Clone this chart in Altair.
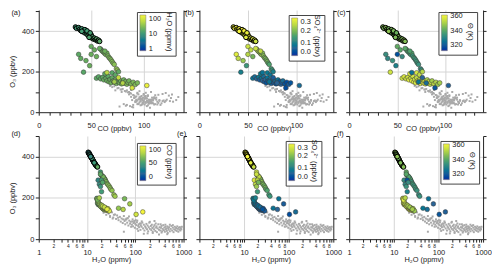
import altair as alt
import pandas as pd

FONT = "Liberation Sans"

# ---- coloured samples (one row per sample) ----
CO = [35, 36, 38, 39, 40, 41, 42, 43, 44, 45, 46, 47, 47, 48, 49, 50, 50, 51, 52, 53,
      54, 55, 56, 57, 58, 44, 46, 49, 41, 48,
      50, 53, 59, 60, 61, 62, 63, 64, 65, 66, 67, 68, 69, 70, 71, 72, 74, 75, 63, 58,
      38, 40, 48.5, 42.7, 50, 55, 45,
      55, 57, 59, 61, 62, 64, 65, 66, 67, 68, 69, 70, 71, 72, 73, 74, 75, 76, 77, 78,
      79, 80, 81, 82, 83, 84, 85, 86, 88, 90, 92, 94, 70, 73, 63, 76,
      65, 76, 89, 103, 80, 72]
O3 = [421, 415, 418, 410, 404, 412, 398, 405, 392, 400, 386, 395, 380, 388, 375, 382, 368, 372, 362, 366,
      358, 362, 352, 356, 350, 408, 402, 392, 400, 370,
      325, 308, 312, 305, 300, 296, 290, 285, 292, 278, 270, 265, 258, 250, 242, 236, 215, 208, 302, 315,
      286, 266, 230, 198, 286, 275, 255,
      168, 175, 165, 172, 160, 168, 155, 178, 150, 162, 145, 170, 155, 148, 160, 142, 152, 165, 145, 155,
      140, 150, 160, 143, 152, 138, 147, 155, 140, 148, 137, 145, 195, 185, 190, 200,
      196, 171, 120, 132, 144, 150]
H2O = [10.6, 10.9, 11.0, 11.3, 11.8, 11.2, 12.1, 11.7, 12.5, 12.0, 13.0, 12.4, 13.4, 12.9, 13.8, 13.3, 14.3, 14.0, 14.9, 14.6,
       15.3, 15.0, 16.0, 15.6, 16.5, 11.5, 11.9, 12.6, 11.9, 14.1,
       19, 20, 19.5, 21, 22, 22.5, 23.5, 24, 23, 25, 26, 27, 28.5, 30, 31, 33, 36, 38, 21.5, 19,
       17, 18, 20, 16, 20, 21, 19,
       17, 16.5, 18, 17.5, 19, 18.5, 20, 16.8, 21, 19.5, 22, 18, 20.5, 21.5, 19.2, 23, 22, 20, 24, 22.5,
       25, 23.5, 21, 26, 24, 27, 25.5, 23, 28, 27, 29, 26, 16, 17, 16.5, 18,
       60, 77, 104, 143, 56, 45]
SO4 = [0.31, 0.30, 0.32, 0.29, 0.30, 0.31, 0.28, 0.30, 0.29, 0.31, 0.28, 0.30, 0.27, 0.29, 0.28, 0.30, 0.27, 0.29, 0.28, 0.27,
       0.29, 0.28, 0.27, 0.28, 0.26, 0.31, 0.30, 0.29, 0.30, 0.28,
       0.26, 0.25, 0.24, 0.23, 0.24, 0.22, 0.21, 0.22, 0.20, 0.21, 0.19, 0.20, 0.18, 0.19, 0.17, 0.16, 0.15, 0.14, 0.25, 0.26,
       0.28, 0.25, 0.14, 0.10, 0.24, 0.19, 0.22,
       0.08, 0.07, 0.06, 0.09, 0.05, 0.08, 0.06, 0.07, 0.05, 0.06, 0.04, 0.08, 0.05, 0.06, 0.07, 0.05, 0.04, 0.06, 0.05, 0.07,
       0.04, 0.06, 0.08, 0.05, 0.04, 0.06, 0.05, 0.07, 0.04, 0.03, 0.05, 0.04, 0.09, 0.08, 0.09, 0.10,
       0.08, 0.05, 0.03, 0.07, 0.06, 0.08]
THETA = [346, 344, 347, 345, 348, 343, 346, 349, 344, 347, 345, 348, 343, 346, 349, 345, 344, 347, 346, 343,
         348, 345, 344, 347, 346, 345, 344, 342, 347, 345,
         341, 340, 339, 338, 340, 337, 338, 336, 339, 335, 337, 336, 334, 336, 335, 334, 333, 334, 339, 340,
         333, 331, 329, 356, 318, 332, 334,
         356, 358, 355, 357, 359, 354, 360, 356, 358, 355, 357, 353, 359, 356, 354, 358, 361, 352, 357, 355,
         359, 353, 351, 356, 354, 352, 355, 350, 353, 351, 349, 350, 357, 354, 358, 352,
         325, 322, 319, 321, 324, 326]

# ---- grey background samples ----
BG_CO = [72, 75, 70, 78, 68, 82, 76, 85, 80, 88,
         84, 90, 86, 93, 79, 95, 91, 87, 98, 83,
         96, 100, 92, 104, 89, 99, 94, 107, 101, 86,
         97, 110, 103, 91, 106, 95, 112, 100, 88, 108,
         97, 115, 102, 93, 110, 99, 105, 118, 96, 108,
         101, 113, 94, 104, 120, 98, 109, 102, 92, 116,
         106, 99, 111, 95, 103, 122, 97, 107, 100, 114,
         93, 105, 125, 98, 110, 102, 96, 117, 104, 90,
         108, 100, 128, 94, 112, 103, 97, 106, 119, 101,
         92, 109, 99, 115, 104, 96, 131, 107, 100, 111,
         93, 105, 98, 121, 102, 109, 95, 113, 104, 99,
         84, 89, 106, 81, 87, 124, 133, 127, 121, 77,
         83, 90, 126, 118, 85, 73, 79, 91, 96, 102,
         88, 114, 107, 94, 100, 111, 97, 108, 91, 103]
BG_H2O = [22, 25, 28, 30, 33, 35, 38, 40, 42, 45,
          48, 50, 52, 55, 58, 60, 62, 65, 68, 70,
          72, 75, 78, 80, 82, 85, 88, 90, 92, 95,
          98, 100, 105, 108, 110, 115, 118, 120, 125, 128,
          130, 135, 140, 145, 150, 155, 160, 165, 170, 175,
          180, 185, 190, 195, 200, 210, 215, 220, 225, 230,
          240, 245, 250, 260, 270, 275, 280, 290, 300, 310,
          320, 330, 340, 350, 360, 370, 380, 390, 400, 410,
          420, 430, 440, 450, 460, 470, 480, 490, 500, 520,
          540, 560, 580, 600, 620, 640, 660, 680, 700, 720,
          740, 760, 780, 800, 820, 840, 860, 880, 900, 920,
          58, 150, 310, 115, 230, 95, 130, 250, 62, 180,
          350, 460, 520, 110, 26, 30, 34, 36, 44, 56,
          74, 86, 66, 102, 136, 200, 265, 335, 420, 600]
BG_O3 = [128, 118, 124, 112, 130, 105, 120, 98, 115, 92,
         108, 85, 100, 78, 112, 88, 72, 95, 80, 102,
         66, 90, 75, 84, 60, 70, 96, 62, 78, 88,
         55, 74, 68, 82, 50, 64, 72, 58, 76, 45,
         66, 60, 80, 52, 70, 42, 62, 55, 74, 48,
         66, 38, 58, 80, 50, 64, 44, 70, 54, 36,
         60, 48, 68, 40, 56, 62, 34, 52, 72, 46,
         58, 42, 55, 64, 38, 50, 68, 44, 56, 36,
         60, 48, 52, 40, 62, 30, 54, 46, 58, 38,
         50, 64, 42, 56, 34, 48, 60, 44, 54, 40,
         62, 50, 36, 56, 46, 58, 42, 52, 48, 60,
         36, 26, 22, 40, 30, 82, 75, 88, 95, 28,
         32, 24, 70, 90, 135, 108, 100, 118, 104, 96,
         110, 86, 100, 92, 86, 84, 76, 72, 70, 68]

PANEL_LABELS = ["(a)", "(b)", "(c)", "(d)", "(e)", "(f)"]
CO_TICKS = list(range(0, 131, 10))
LOG_TICKS = [m * 10 ** e for e in range(3) for m in range(1, 10)] + [1000]
O3_TICKS = [0, 100, 200, 300, 400, 500]

COLORS = ["#1c2c9c", "#2a6496", "#3b8a80", "#69ad5c", "#b6d646", "#f6f63c"]

df = pd.DataFrame({"CO": CO, "O3": O3, "H2O": H2O, "SO4": SO4, "TH": THETA})
bgdf = pd.DataFrame({"CO": BG_CO, "H2O": BG_H2O, "O3": BG_O3})

M = "round(datum.value/pow(10,floor(log(datum.value)/LN10+1e-6)))"
LOG_LABEL = (f"{M}==1 ? format(datum.value,'d') : "
             f"({M}==2||{M}==4||{M}==6||{M}==8) ? format({M},'d') : ''")
LOG_MAJOR = f"{M}==1"
INK = "#222222"


def x_axis(log, tx, ty):
    common = dict(tickSize=3, labelPadding=6, domainColor=INK, tickColor=INK,
                  grid=True, gridColor="#d6d6d6", labelFlush=False, labelOverlap=False,
                  titleX=tx, titleY=ty, titleAlign="center", titleBaseline="middle",
                  labelFontSize=7.5, titleFontSize=7.5)
    if log:
        common.update(
            values=LOG_TICKS, labelExpr=LOG_LABEL, title="H₂O (ppmv)",
            labelFontSize={"condition": {"test": LOG_MAJOR, "value": 7.5}, "value": 5},
            labelBaseline={"condition": {"test": LOG_MAJOR, "value": "top"}, "value": "bottom"},
            gridOpacity={"condition": {"test": "datum.value==10||datum.value==100", "value": 1}, "value": 0},
        )
    else:
        common.update(
            values=CO_TICKS, labelExpr="datum.value % 50 === 0 ? datum.label : ''",
            title="CO (ppbv)", labelBaseline="top",
            gridOpacity={"condition": {"test": "datum.value==50||datum.value==100", "value": 1}, "value": 0},
        )
    return alt.Axis(**common)


def y_left(show, h):
    d = dict(values=O3_TICKS, tickSize=3.5, labelPadding=1.5, domainColor=INK, tickColor=INK,
             grid=True, gridColor="#d6d6d6",
             gridOpacity={"condition": {"test": "datum.value==200||datum.value==400", "value": 1}, "value": 0},
             labelFontSize=7.5, titleFontSize=7.5)
    if show:
        d.update(labelExpr="datum.value % 200 === 0 && datum.value < 500 ? datum.label : ''",
                 title="O₃ (ppbv)", titleX=-26, titleY=0.6 * h, titleAngle=270,
                 titleBaseline="middle", titleAlign="center")
    else:
        d.update(labels=False, title=None)
    return alt.Axis(**d)


def y_right():
    return alt.Axis(orient="right", values=O3_TICKS, labels=False, tickSize=3, grid=False,
                    title=None, domainColor=INK, tickColor=INK)


def panel(i, log, xdom, w, h, ydom, cfield, ctitle, cdom, cvals, cfmt, lx, ly, glen,
          tx, ty, lab_x, lab_y, show_left, clog=False):
    xf = "H2O" if log else "CO"
    xs = alt.Scale(type="log" if log else "linear", domain=xdom, nice=False, zero=False)
    ys = alt.Scale(domain=ydom, nice=False, zero=False)
    xa = x_axis(log, tx, ty)
    grey = alt.Chart(bgdf).mark_square(size=4, color="#a9a9a9", opacity=1).encode(
        x=alt.X(xf, type="quantitative", scale=xs, axis=xa),
        y=alt.Y("O3", type="quantitative", scale=ys, axis=y_left(show_left, h)),
    )
    leg = dict(
        orient="none", legendX=lx, legendY=ly, direction="vertical", type="gradient",
        gradientLength=glen, gradientThickness=6, values=cvals,
        title=ctitle, titleOrient="right", titleAnchor="middle", titlePadding=3,
        padding=3, strokeColor="#444", fillColor="white", labelFontSize=7.5,
        titleFontSize=7.5, titleFontWeight="normal", labelOverlap=False, labelOffset=3,
        gradientStrokeColor="#777", gradientStrokeWidth=0.5, labelFont=FONT, titleFont=FONT,
    )
    base = alt.Chart(df)
    cf = cfield
    if clog:
        # colour by log10 of the value, labelled back in original units
        base = base.transform_calculate(clog10=f"log(datum.{cfield})/LN10")
        cf = "clog10"
        leg["labelExpr"] = "format(pow(10, datum.value), 'd')"
    else:
        leg["format"] = cfmt
    pts = base.mark_circle(size=22, opacity=1).encode(
        x=alt.X(xf, type="quantitative", scale=xs, axis=xa),
        y=alt.Y("O3", type="quantitative", scale=ys, axis=y_right()),
        color=alt.Color(cf, type="quantitative",
                        scale=alt.Scale(domain=cdom, range=COLORS, clamp=True, nice=False, zero=False),
                        legend=alt.Legend(**leg)),
        stroke=alt.condition("datum.O3 > 340", alt.value("#000000"), alt.value("#3a3a3a")),
        strokeWidth=alt.condition("datum.O3 > 340", alt.value(1.0), alt.value(0.5)),
    )
    txt = alt.Chart(pd.DataFrame({"t": [PANEL_LABELS[i]]})).mark_text(
        font=FONT, fontSize=7.5, align="center", baseline="middle", color=INK
    ).encode(text="t:N", x=alt.value(lab_x), y=alt.value(lab_y))
    return alt.layer(grey, pts, txt).resolve_axis(y="independent").properties(width=w, height=h)


H1, H2 = 103, 104
YD1, YD2 = [0, 505], [0, 500]
W1, W2, W3 = 146, 135, 135

a = panel(0, False, [0, 138], W1, H1, YD1, "H2O", "H₂O (ppmv)", [-0.097, 2.23], [0, 1, 2], "d",
          99, 2, 36, 76, 16, -23, 3, True, clog=True)
b = panel(1, False, [0, 138], W2, H1, YD1, "SO4", "SO₄²⁻ (ppbv)", [0, 0.3], [0, 0.1, 0.2, 0.3], ".1f",
          90, 5, 38, 75, 16, -10, 3, False)
c = panel(2, False, [0, 139], W3, H1, YD1, "TH", "Θ (K)", [312, 362], [320, 340, 360], "d",
          90, 2, 36, 74, 16, -8, 3, False)
d = panel(3, True, [1, 1000], W1, H2, YD2, "CO", "CO (ppbv)", [0, 100], [0, 50, 100], "d",
          99, 7, 35, 73, 21, -23, -2, True)
e = panel(4, True, [1, 1000], W2, H2, YD2, "SO4", "SO₄²⁻ (ppbv)", [0, 0.3], [0, 0.1, 0.2, 0.3], ".1f",
          87, 5, 37, 72, 21, -18, -2, False)
f = panel(5, True, [1, 1000], W3, H2, YD2, "TH", "Θ (K)", [312, 362], [320, 340, 360], "d",
          92, 5, 36, 75, 21, -9, -2, False)

chart = alt.concat(
    a, b, c, d, e, f, columns=3, spacing={"row": 24, "column": 16}, bounds="flush", align="each"
).resolve_scale(
    color="independent", x="independent", y="independent"
).resolve_legend(color="independent").properties(padding=0).configure(
    font=FONT
).configure_view(stroke=None).configure_axis(
    labelFont=FONT, titleFont=FONT, labelColor=INK, titleColor=INK, titleFontWeight="normal"
).configure_legend(labelColor=INK, titleColor=INK)

chart.save("out.html", embed_options={"renderer": "svg", "actions": False})
